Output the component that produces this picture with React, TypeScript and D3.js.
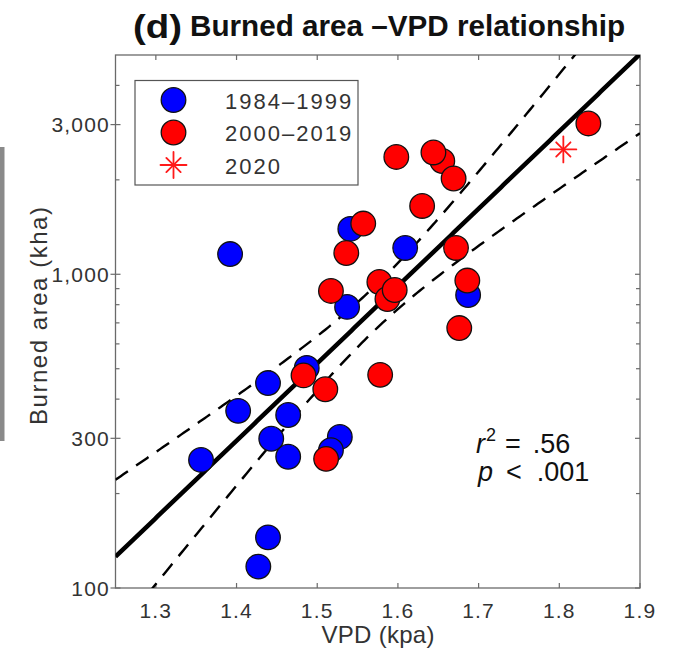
import React from "react";
import * as d3 from "d3";

const W = 682;
const H = 653;

// Burned area (kha) against mean VPD (kPa), one point per fire season
const BLUE_VPD = [1.392, 1.541, 1.609, 1.537, 1.687, 1.487, 1.439, 1.402, 1.464, 1.443, 1.528, 1.517, 1.356, 1.464, 1.439, 1.427];
const BLUE_AREA = [1160, 1395, 1213, 787, 859, 503, 450, 367, 356, 299, 303, 275, 256, 262, 145, 117];

const RED_VPD = [1.598, 1.655, 1.644, 1.669, 1.63, 1.557, 1.536, 1.672, 1.517, 1.577, 1.587, 1.596, 1.686, 1.676, 1.836, 1.483, 1.51, 1.578, 1.511];
const RED_AREA = [2366, 2297, 2445, 2020, 1651, 1451, 1169, 1213, 885, 945, 834, 891, 955, 674, 3025, 476, 430, 478, 258];

const STAR_VPD = [1.805];
const STAR_AREA = [2500];

const X_TICKS = [1.3, 1.4, 1.5, 1.6, 1.7, 1.8, 1.9];
const Y_MAJOR = [100, 300, 1000, 3000];
const Y_MINOR = [200, 400, 500, 600, 700, 800, 900, 2000, 4000];

// log10(area) = FIT_INTERCEPT + FIT_SLOPE * vpd, with a confidence band
// half-width sqrt(BAND_MIN^2 + BAND_SPREAD * (vpd - BAND_CENTER)^2)
const FIT_INTERCEPT = -0.9815;
const FIT_SLOPE = 2.465;
const BAND_CENTER = 1.57;
const BAND_MIN = 0.07;
const BAND_SPREAD = 0.54;

const LEGEND_LABELS = ["1984\u20131999", "2000\u20132019", "2020"];
const TITLE_TAG = "(d)";
const TITLE_TEXT = "Burned area \u2013VPD relationship";

const M = { left: 115.5, right: 640, top: 55, bottom: 588 };
const FONT = "'Liberation Sans', Arial, Helvetica, sans-serif";
const AXIS = "#6a6a6a";
const TXT = "#333";

function Star({ cx, cy, r }: { cx: number; cy: number; r: number }) {
  const d = r * 0.55;
  return (
    <g stroke="#ff1a1a" strokeWidth={1.8} strokeLinecap="round">
      <line x1={cx - r} y1={cy} x2={cx + r} y2={cy} />
      <line x1={cx} y1={cy - r} x2={cx} y2={cy + r} />
      <line x1={cx - d} y1={cy - d} x2={cx + d} y2={cy + d} />
      <line x1={cx - d} y1={cy + d} x2={cx + d} y2={cy - d} />
    </g>
  );
}

export default function App() {
  const x = d3.scaleLinear().domain([1.25, 1.9]).range([M.left, M.right]);
  const y = d3.scaleLog().domain([100, 5000]).range([M.bottom, M.top]);

  const xs = d3.range(0, 201).map((i) => 1.25 + (0.65 * i) / 200);
  const fit = (v: number) => FIT_INTERCEPT + FIT_SLOPE * v;
  const half = (v: number) =>
    Math.sqrt(BAND_MIN * BAND_MIN + BAND_SPREAD * (v - BAND_CENTER) * (v - BAND_CENTER));
  const line = d3
    .line<[number, number]>()
    .x((d) => x(d[0]))
    .y((d) => y(Math.pow(10, d[1])));
  const centerPath = line(xs.map((v) => [v, fit(v)]));
  const upperPath = line(xs.map((v) => [v, fit(v) + half(v)]));
  const lowerPath = line(xs.map((v) => [v, fit(v) - half(v)]));

  const fmt = d3.format(",");
  const R = 12.3;

  return (
    <svg
      width={W}
      height={H}
      viewBox={`0 0 ${W} ${H}`}
      style={{ position: "absolute", left: 0, top: 0, background: "#fff" }}
      fontFamily={FONT}
    >
      <rect x={0} y={147} width={4.5} height={294} fill="#8a8a8a" />

      {/* title */}
      <text x={133} y={38} fontSize={34} fontWeight="bold" fill="#111" textLength={49} lengthAdjust="spacingAndGlyphs">
        {TITLE_TAG}
      </text>
      <text x={190} y={36} fontSize={30} fontWeight="bold" fill="#111" textLength={435} lengthAdjust="spacingAndGlyphs">
        {TITLE_TEXT}
      </text>

      <defs>
        <clipPath id="plotClip">
          <rect x={M.left} y={M.top} width={M.right - M.left} height={M.bottom - M.top} />
        </clipPath>
      </defs>

      {/* axes box */}
      <rect x={M.left} y={M.top} width={M.right - M.left} height={M.bottom - M.top} fill="none" stroke={AXIS} strokeWidth={1.3} />

      {/* x ticks */}
      {X_TICKS.map((t) => (
        <g key={"x" + t}>
          <line x1={x(t)} x2={x(t)} y1={M.bottom} y2={M.bottom - 5} stroke={AXIS} strokeWidth={1.2} />
          <line x1={x(t)} x2={x(t)} y1={M.top} y2={M.top + 5} stroke={AXIS} strokeWidth={1.2} />
          <text x={x(t)} y={618} fontSize={21} fill={TXT} textAnchor="middle" letterSpacing={1.2}>
            {t.toFixed(1)}
          </text>
        </g>
      ))}

      {/* y ticks */}
      {Y_MAJOR.map((t) => (
        <g key={"ym" + t}>
          <line x1={M.left - 5} x2={M.left + 5} y1={y(t)} y2={y(t)} stroke={AXIS} strokeWidth={1.2} />
          <line x1={M.right} x2={M.right - 5} y1={y(t)} y2={y(t)} stroke={AXIS} strokeWidth={1.2} />
          <text x={110} y={y(t) + 7.5} fontSize={21} fill={TXT} textAnchor="end" letterSpacing={1.2}>
            {fmt(t)}
          </text>
        </g>
      ))}
      {Y_MINOR.map((t) => (
        <g key={"yn" + t}>
          <line x1={M.left} x2={M.left + 4} y1={y(t)} y2={y(t)} stroke={AXIS} strokeWidth={1.2} />
          <line x1={M.right} x2={M.right - 4} y1={y(t)} y2={y(t)} stroke={AXIS} strokeWidth={1.2} />
        </g>
      ))}

      {/* axis titles */}
      <text x={378} y={643} fontSize={24} fill={TXT} textAnchor="middle" textLength={113}>
        VPD (kpa)
      </text>
      <text
        transform={`translate(46.5, ${316}) rotate(-90)`}
        fontSize={24}
        fill={TXT}
        textAnchor="middle"
        textLength={218}
      >
        Burned area (kha)
      </text>

      {/* regression fit and confidence band */}
      <g clipPath="url(#plotClip)" fill="none">
        <path d={upperPath || ""} stroke="#000" strokeWidth={2.4} strokeDasharray="15 10" />
        <path d={lowerPath || ""} stroke="#000" strokeWidth={2.4} strokeDasharray="15 10" />
        <path d={centerPath || ""} stroke="#000" strokeWidth={4.5} />
      </g>

      {/* points */}
      {BLUE_VPD.map((v, i) => (
        <circle key={"b" + i} cx={x(v)} cy={y(BLUE_AREA[i])} r={R} fill="#0000ff" stroke="#111" strokeWidth={1.3} />
      ))}
      {RED_VPD.map((v, i) => (
        <circle key={"r" + i} cx={x(v)} cy={y(RED_AREA[i])} r={R} fill="#ff0000" stroke="#111" strokeWidth={1.3} />
      ))}
      {STAR_VPD.map((v, i) => (
        <Star key={"s" + i} cx={x(v)} cy={y(STAR_AREA[i])} r={13} />
      ))}

      {/* legend */}
      <rect x={135} y={80.5} width={223} height={104.5} fill="#fff" stroke="#555" strokeWidth={1.2} />
      <circle cx={173.5} cy={100} r={R} fill="#0000ff" stroke="#111" strokeWidth={1.3} />
      <circle cx={173.5} cy={132.5} r={R} fill="#ff0000" stroke="#111" strokeWidth={1.3} />
      <Star cx={173.5} cy={165} r={13} />
      {LEGEND_LABELS.map((l, i) => (
        <text key={l} x={225} y={109 + i * 32.3} fontSize={22} fill={TXT} letterSpacing={2}>
          {l}
        </text>
      ))}

      {/* statistics */}
      <text x={476} y={453} fontSize={27} fill="#111">
        <tspan fontStyle="italic">r</tspan>
        <tspan dx={1} dy={-12} fontSize={18}>2</tspan>
        <tspan dy={12} dx={9}>=</tspan>
        <tspan dx={12}>.56</tspan>
      </text>
      <text x={478} y={481} fontSize={27} fill="#111">
        <tspan fontStyle="italic">p</tspan>
        <tspan dx={13}>{"<"}</tspan>
        <tspan dx={15}>.001</tspan>
      </text>
    </svg>
  );
}
